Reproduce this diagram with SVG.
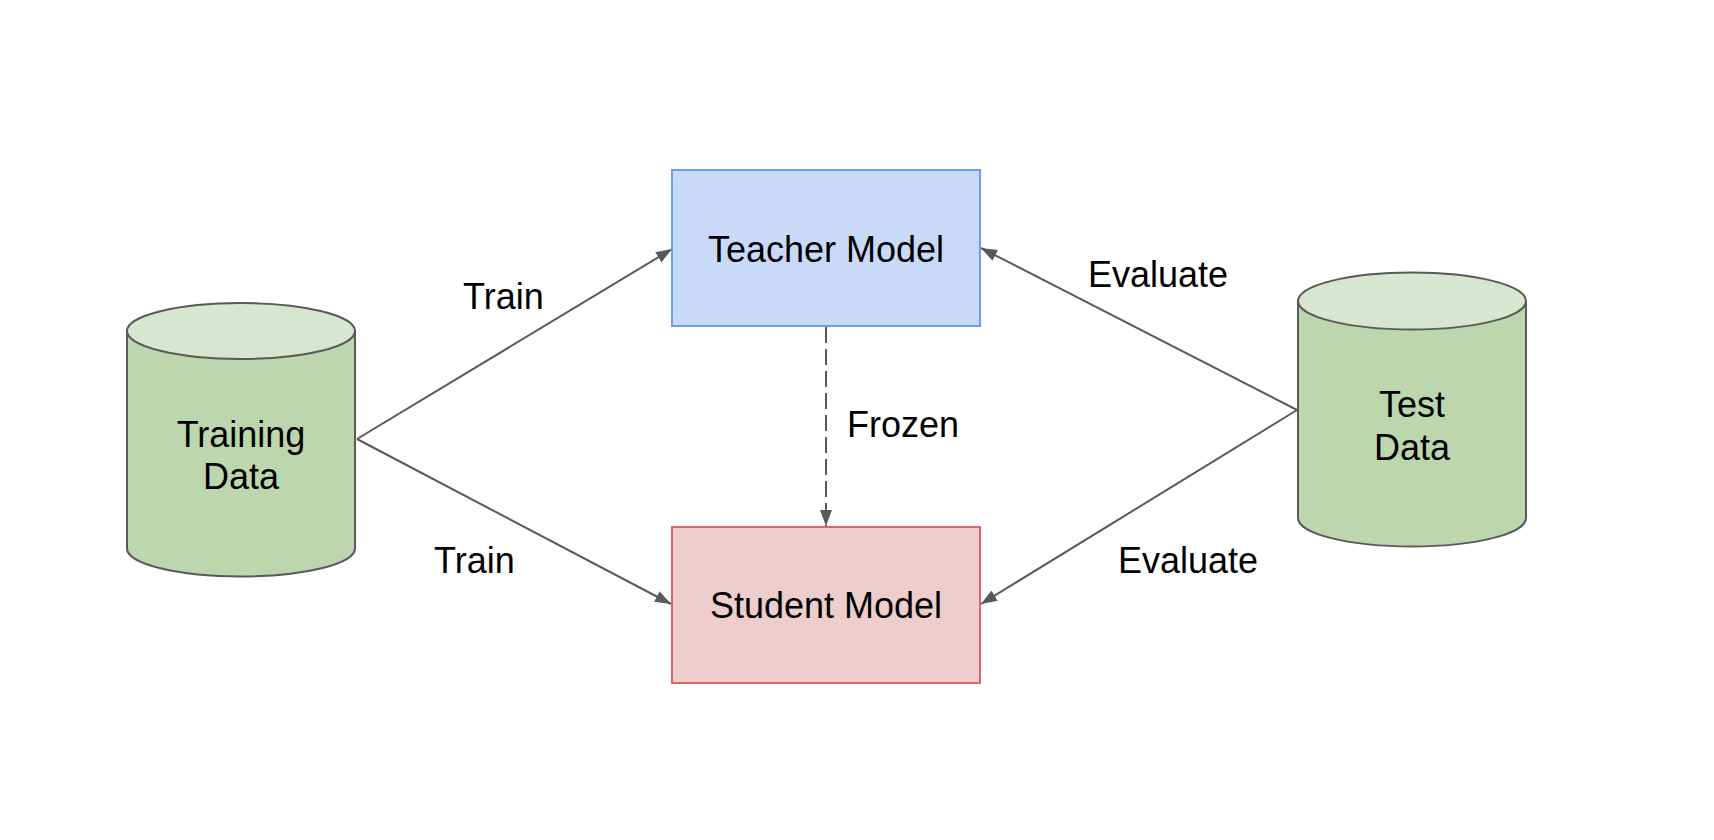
<svg xmlns="http://www.w3.org/2000/svg" width="1714" height="840" viewBox="0 0 1714 840">
<style>
text{font-family:"Liberation Sans",Arial,sans-serif;font-size:36px;fill:#000}
.c{text-anchor:middle}
.cyl{fill:#bcd6ad;stroke:#595959;stroke-width:2}
.cyltop{fill:#d7e7cf;stroke:#595959;stroke-width:2}
.edge{fill:none;stroke:#595959;stroke-width:2}
</style>
<defs>
<marker id="ah" viewBox="0 0 16 12" refX="16" refY="6" markerWidth="16" markerHeight="12" markerUnits="userSpaceOnUse" orient="auto">
<path d="M0,0 L16,6 L0,12 Z" fill="#595959"/>
</marker>
</defs>
<rect width="1714" height="840" fill="#fff"/>
<g id="connectors">
<line class="edge" x1="357" y1="439" x2="672" y2="249" marker-end="url(#ah)"/>
<line class="edge" x1="357" y1="439" x2="671" y2="604" marker-end="url(#ah)"/>
<line class="edge" x1="1297" y1="410" x2="981" y2="248" marker-end="url(#ah)"/>
<line class="edge" x1="1297" y1="410" x2="981" y2="604" marker-end="url(#ah)"/>
<line class="edge" x1="826" y1="327" x2="826" y2="526" stroke-dasharray="16,6" marker-end="url(#ah)"/>
<text x="463" y="309">Train</text>
<text x="434" y="573">Train</text>
<text x="1088" y="287">Evaluate</text>
<text x="1118" y="573">Evaluate</text>
<text x="847" y="437">Frozen</text>
</g>
<g id="training">
<path class="cyl" d="M127,331 L127,548.5 A114,28 0 0 0 355,548.5 L355,331 Z"/>
<ellipse class="cyltop" cx="241" cy="331" rx="114" ry="28"/>
<text class="c" x="241" y="447">Training</text>
<text class="c" x="241" y="489">Data</text>
</g>
<g id="teacher">
<rect x="672" y="170" width="308" height="156" fill="#c9daf8" stroke="#6d9eeb" stroke-width="2"/>
<text class="c" x="826" y="262">Teacher Model</text>
</g>
<g id="student">
<rect x="672" y="527" width="308" height="156" fill="#eecdcd" stroke="#e06666" stroke-width="2"/>
<text class="c" x="826" y="618">Student Model</text>
</g>
<g id="test">
<path class="cyl" d="M1298,301 L1298,518 A114,28.5 0 0 0 1526,518 L1526,301 Z"/>
<ellipse class="cyltop" cx="1412" cy="301" rx="114" ry="28.5"/>
<text class="c" x="1412" y="417">Test</text>
<text class="c" x="1412" y="460">Data</text>
</g>
</svg>
